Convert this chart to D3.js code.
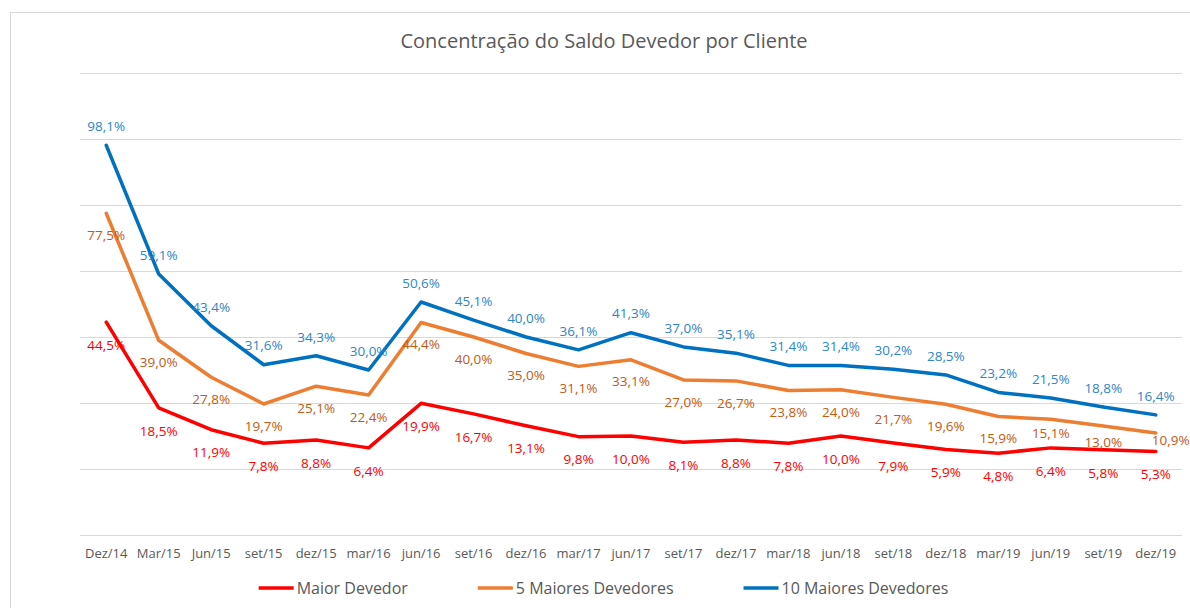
<!DOCTYPE html>
<html>
<head>
<meta charset="utf-8">
<script src="https://cdn.jsdelivr.net/npm/d3@7"></script>
<style>
  body { margin: 0; background: #fff; }
  svg { display: block; font-family: "Open Sans", sans-serif; }
</style>
</head>
<body>
<div class="canvas"></div>
<script>
// categories and series
const categories = ['Dez/14', 'Mar/15', 'Jun/15', 'set/15', 'dez/15', 'mar/16', 'jun/16', 'set/16', 'dez/16', 'mar/17', 'jun/17',
    'set/17', 'dez/17', 'mar/18', 'jun/18', 'set/18', 'dez/18', 'mar/19', 'jun/19', 'set/19', 'dez/19'];
const maiorDevedor = [44.5, 18.5, 11.9, 7.8, 8.8, 6.4, 19.9, 16.7, 13.1, 9.8, 10.0, 8.1, 8.8, 7.8, 10.0, 7.9, 5.9, 4.8, 6.4, 5.8, 5.3];
const cincoMaiores = [77.5, 39.0, 27.8, 19.7, 25.1, 22.4, 44.4, 40.0, 35.0, 31.1, 33.1, 27.0, 26.7, 23.8, 24.0, 21.7, 19.6, 15.9, 15.1, 13.0, 10.9];
const dezMaiores = [98.1, 59.1, 43.4, 31.6, 34.3, 30.0, 50.6, 45.1, 40.0, 36.1, 41.3, 37.0, 35.1, 31.4, 31.4, 30.2, 28.5, 23.2, 21.5, 18.8, 16.4];
const yTicks = [-20, 0, 20, 40, 60, 80, 100, 120];

const series = [
    { name: 'Maior Devedor', values: maiorDevedor, color: '#ff0000', labelColor: '#ff0000', dy: 23 },
    { name: '5 Maiores Devedores', values: cincoMaiores, color: '#ed7d31', labelColor: '#c55a11', dy: 22 },
    { name: '10 Maiores Devedores', values: dezMaiores, color: '#0070c0', labelColor: '#2e86c8', dy: -19 }
];

// a few labels that were nudged by hand in the original
const labelNudge = { '5 Maiores Devedores': { 18: [0, -8], 19: [0, -6], 20: [15, -15] } };

const width = 1190, height = 608;
const margin = { top: 73, right: 8, bottom: 73, left: 80 };

const svg = d3.select('.canvas')
    .append('svg')
    .attr('width', width)
    .attr('height', height);

// chart area border
svg.append('rect')
    .attr('x', 10.5).attr('y', 12.5)
    .attr('width', width).attr('height', height)
    .attr('fill', 'none')
    .attr('stroke', '#d9d9d9');

svg.append('text')
    .attr('x', 604).attr('y', 48)
    .attr('text-anchor', 'middle')
    .attr('font-size', 20)
    .attr('fill', '#595959')
    .text('Concentração do Saldo Devedor por Cliente');

const x = d3.scaleBand()
    .domain(categories)
    .range([margin.left, width - margin.right])
    .padding(0);

const y = d3.scaleLinear()
    .domain([-20, 120])
    .range([height - margin.bottom, margin.top]);

const cx = d => x(d) + x.bandwidth() / 2;

// gridlines
svg.append('g')
    .selectAll('line')
    .data(yTicks)
    .join('line')
    .attr('x1', margin.left)
    .attr('x2', width - margin.right)
    .attr('y1', d => Math.round(y(d)) + 0.5)
    .attr('y2', d => Math.round(y(d)) + 0.5)
    .attr('stroke', '#d9d9d9')
    .attr('stroke-width', 1);

// x axis labels
const xAxis = d3.axisBottom(x).tickSize(0).tickPadding(14);
const xAxisGroup = svg.append('g')
    .attr('transform', `translate(0, ${y(-20)})`)
    .call(xAxis);
xAxisGroup.select('.domain').remove();
xAxisGroup.selectAll('text')
    .attr('font-family', '"Open Sans", sans-serif')
    .attr('font-size', 13)
    .attr('fill', '#595959');

const fmt = v => d3.format('.1f')(v).replace('.', ',') + '%';

const line = d3.line()
    .x((d, i) => cx(categories[i]))
    .y(d => y(d));

series.forEach(s => {
    svg.append('path')
        .datum(s.values)
        .attr('fill', 'none')
        .attr('stroke', s.color)
        .attr('stroke-width', 3.5)
        .attr('stroke-linejoin', 'round')
        .attr('stroke-linecap', 'round')
        .attr('d', line);
});

// data labels
series.forEach(s => {
    const nudge = labelNudge[s.name] || {};
    svg.append('g')
        .selectAll('text')
        .data(s.values)
        .join('text')
        .attr('x', (d, i) => cx(categories[i]) + (nudge[i] ? nudge[i][0] : 0))
        .attr('y', (d, i) => y(d) + s.dy + (nudge[i] ? nudge[i][1] : 0))
        .attr('dy', '0.35em')
        .attr('text-anchor', 'middle')
        .attr('font-size', 13.5)
        .attr('fill', s.labelColor)
        .text(fmt);
});

// legend
const legend = svg.append('g');
const items = series.map(s => {
    const g = legend.append('g');
    g.append('line')
        .attr('x1', 0).attr('x2', 35)
        .attr('y1', 0).attr('y2', 0)
        .attr('stroke', s.color)
        .attr('stroke-width', 3.5);
    const t = g.append('text')
        .attr('x', 38).attr('dy', '0.35em')
        .attr('font-size', 16)
        .attr('fill', '#595959')
        .text(s.name);
    return { g, w: 38 + t.node().getComputedTextLength() };
});
const gap = 70;
const total = d3.sum(items, d => d.w) + gap * (items.length - 1);
let lx = 603.5 - total / 2;
items.forEach(it => {
    it.g.attr('transform', `translate(${lx}, 588)`);
    lx += it.w + gap;
});
</script>
</body>
</html>
